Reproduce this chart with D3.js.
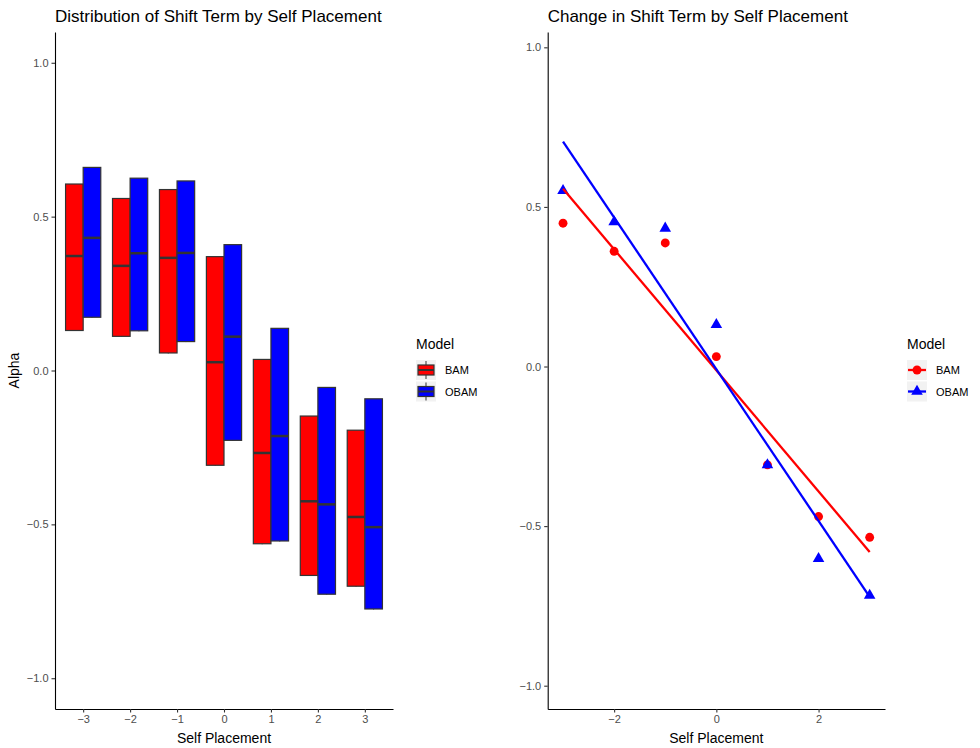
<!DOCTYPE html>
<html>
<head>
<meta charset="utf-8">
<script src="https://cdn.jsdelivr.net/npm/d3@7"></script>
<style>
  body { margin: 0; background: #fff; }
  svg { font-family: "Liberation Sans", Arial, sans-serif; }
</style>
</head>
<body>
<svg id="chart" width="980" height="748"></svg>
<script>
// categories and series
const placements = [-3, -2, -1, 0, 1, 2, 3];
const models = ["BAM", "OBAM"];
const modelColors = { BAM: "#ff0000", OBAM: "#0000ff" };

// box summaries (lower, median, upper) per self placement
const bamLower  = [0.130, 0.111, 0.057, -0.308, -0.563, -0.666, -0.701];
const bamMedian = [0.372, 0.340, 0.366, 0.027, -0.268, -0.425, -0.476];
const bamUpper  = [0.606, 0.559, 0.588, 0.370, 0.036, -0.148, -0.194];
const obamLower  = [0.173, 0.129, 0.094, -0.227, -0.554, -0.727, -0.775];
const obamMedian = [0.431, 0.381, 0.382, 0.110, -0.213, -0.435, -0.509];
const obamUpper  = [0.660, 0.625, 0.616, 0.409, 0.137, -0.055, -0.092];

// change in shift term (right panel points)
const bamChange  = [0.449, 0.361, 0.387, 0.031, -0.308, -0.470, -0.535];
const obamChange = [0.551, 0.453, 0.433, 0.131, -0.308, -0.602, -0.717];

const yTicks = [-1.0, -0.5, 0.0, 0.5, 1.0];
const xTicksRight = [-2, 0, 2];

const svg = d3.select("#chart");
const minus = s => s.replace("-", "\u2212");
const plotTop = 32, plotBottom = 709;

// ---------- left panel ----------
const L = { left: 55, right: 393 };
const xL = d3.scalePoint().domain(placements).range([L.left, L.right]).padding(0.6);
const yL = d3.scaleLinear().domain([-1.1, 1.1]).range([plotBottom, plotTop]);
const boxW = xL.step() * 0.75 / 2;

const boxes = [];
placements.forEach((p, i) => {
  boxes.push({ p, model: "BAM", lo: bamLower[i], med: bamMedian[i], hi: bamUpper[i], off: -1 });
  boxes.push({ p, model: "OBAM", lo: obamLower[i], med: obamMedian[i], hi: obamUpper[i], off: 0 });
});

const gL = svg.append("g");
const bx = gL.selectAll("g.box").data(boxes).enter().append("g").attr("class", "box");
bx.append("line")
  .attr("x1", d => xL(d.p) + (d.off + 0.5) * boxW).attr("x2", d => xL(d.p) + (d.off + 0.5) * boxW)
  .attr("y1", d => yL(d.lo)).attr("y2", d => yL(d.lo) + 0.5)
  .attr("stroke", "#333").attr("stroke-width", 1);
bx.append("rect")
  .attr("x", d => xL(d.p) + d.off * boxW)
  .attr("width", boxW)
  .attr("y", d => yL(d.hi))
  .attr("height", d => yL(d.lo) - yL(d.hi))
  .attr("fill", d => modelColors[d.model])
  .attr("stroke", "#333").attr("stroke-width", 1.2);
bx.append("line")
  .attr("x1", d => xL(d.p) + d.off * boxW).attr("x2", d => xL(d.p) + (d.off + 1) * boxW)
  .attr("y1", d => yL(d.med)).attr("y2", d => yL(d.med))
  .attr("stroke", "#333").attr("stroke-width", 2.5);

function styleAxis(g) {
  g.select(".domain").attr("stroke", "#000").attr("stroke-width", 1.1);
  g.selectAll(".tick line").attr("stroke", "#333").attr("stroke-width", 1.1);
  g.selectAll(".tick text").attr("fill", "#4d4d4d").style("font-size", "11px")
    .style("font-family", "Liberation Sans, Arial, sans-serif");
}

gL.append("g").attr("transform", `translate(0,${plotBottom})`)
  .call(d3.axisBottom(xL).tickSize(3.5).tickPadding(3).tickFormat(d => minus(String(d))).tickSizeOuter(0))
  .call(styleAxis);
gL.append("g").attr("transform", `translate(${L.left},0)`)
  .call(d3.axisLeft(yL).tickValues(yTicks).tickSize(3.5).tickPadding(3).tickFormat(d => minus(d3.format(".1f")(d))).tickSizeOuter(0))
  .call(styleAxis);

gL.append("text").attr("x", L.left).attr("y", 22).attr("font-size", 17).attr("fill", "#000")
  .text("Distribution of Shift Term by Self Placement");
gL.append("text").attr("x", (L.left + L.right) / 2).attr("y", 743).attr("text-anchor", "middle")
  .attr("font-size", 14).text("Self Placement");
gL.append("text").attr("transform", `translate(19,${(plotTop + plotBottom) / 2}) rotate(-90)`)
  .attr("text-anchor", "middle").attr("font-size", 14).text("Alpha");

// left legend
const legL = svg.append("g").attr("transform", "translate(416,349)");
legL.append("text").attr("x", 0).attr("y", 0).attr("font-size", 14).text("Model");
models.forEach((m, i) => {
  const k = legL.append("g").attr("transform", `translate(0,${11 + i * 21.5})`);
  k.append("rect").attr("width", 20).attr("height", 20).attr("fill", "#f2f2f2");
  k.append("line").attr("x1", 10).attr("x2", 10).attr("y1", 1).attr("y2", 19).attr("stroke", "#333").attr("stroke-width", 1);
  k.append("rect").attr("x", 2).attr("y", 5).attr("width", 16).attr("height", 10)
    .attr("fill", modelColors[m]).attr("stroke", "#333").attr("stroke-width", 1.2);
  k.append("line").attr("x1", 2).attr("x2", 18).attr("y1", 10).attr("y2", 10).attr("stroke", "#333").attr("stroke-width", 2);
  k.append("text").attr("x", 29).attr("y", 14).attr("font-size", 11).text(m);
});

// ---------- right panel ----------
const R = { left: 547.7, right: 885 };
const xR = d3.scaleLinear().domain([-3.3, 3.3]).range([R.left, R.right]);
const yR = d3.scaleLinear().domain([-1.073, 1.048]).range([plotBottom, plotTop]);
const gR = svg.append("g");

gR.append("g").attr("transform", `translate(0,${plotBottom})`)
  .call(d3.axisBottom(xR).tickValues(xTicksRight).tickSize(3.5).tickPadding(3).tickFormat(d => minus(String(d))).tickSizeOuter(0))
  .call(styleAxis);
gR.append("g").attr("transform", `translate(${R.left},0)`)
  .call(d3.axisLeft(yR).tickValues(yTicks).tickSize(3.5).tickPadding(3).tickFormat(d => minus(d3.format(".1f")(d))).tickSizeOuter(0))
  .call(styleAxis);

const series = [
  { model: "BAM", values: bamChange, shape: d3.symbolCircle, size: 62 },
  { model: "OBAM", values: obamChange, shape: d3.symbolTriangle, size: 58 }
];

// points
series.forEach(s => {
  gR.selectAll(null).data(placements.map((p, i) => ({ x: p, y: s.values[i] }))).enter()
    .append("path")
    .attr("d", d3.symbol().type(s.shape).size(s.size))
    .attr("transform", d => `translate(${xR(d.x)},${yR(d.y)})`)
    .attr("fill", modelColors[s.model]);
});

// least squares fit lines (geom_smooth method = lm)
function lmFit(xs, ys) {
  const mx = d3.mean(xs), my = d3.mean(ys);
  const b = d3.sum(xs, (x, i) => (x - mx) * (ys[i] - my)) / d3.sum(xs, x => (x - mx) ** 2);
  return x => my + b * (x - mx);
}
series.forEach(s => {
  const f = lmFit(placements, s.values);
  const ext = d3.extent(placements);
  gR.append("path")
    .datum(ext.map(x => ({ x, y: f(x) })))
    .attr("d", d3.line().x(d => xR(d.x)).y(d => yR(d.y)))
    .attr("fill", "none").attr("stroke", modelColors[s.model]).attr("stroke-width", 2.3);
});

gR.append("text").attr("x", R.left).attr("y", 22).attr("font-size", 17)
  .text("Change in Shift Term by Self Placement");
gR.append("text").attr("x", (R.left + R.right) / 2).attr("y", 743).attr("text-anchor", "middle")
  .attr("font-size", 14).text("Self Placement");

// right legend
const legR = svg.append("g").attr("transform", "translate(907,349)");
legR.append("text").attr("font-size", 14).text("Model");
series.forEach((s, i) => {
  const k = legR.append("g").attr("transform", `translate(0,${11 + i * 21.5})`);
  k.append("rect").attr("width", 20).attr("height", 20).attr("fill", "#f2f2f2");
  k.append("line").attr("x1", 1).attr("x2", 19).attr("y1", 10).attr("y2", 10)
    .attr("stroke", modelColors[s.model]).attr("stroke-width", 2.3);
  k.append("path").attr("d", d3.symbol().type(s.shape).size(s.size))
    .attr("transform", "translate(10,10)").attr("fill", modelColors[s.model]);
  k.append("text").attr("x", 29).attr("y", 14).attr("font-size", 11).text(s.model);
});
</script>
</body>
</html>
